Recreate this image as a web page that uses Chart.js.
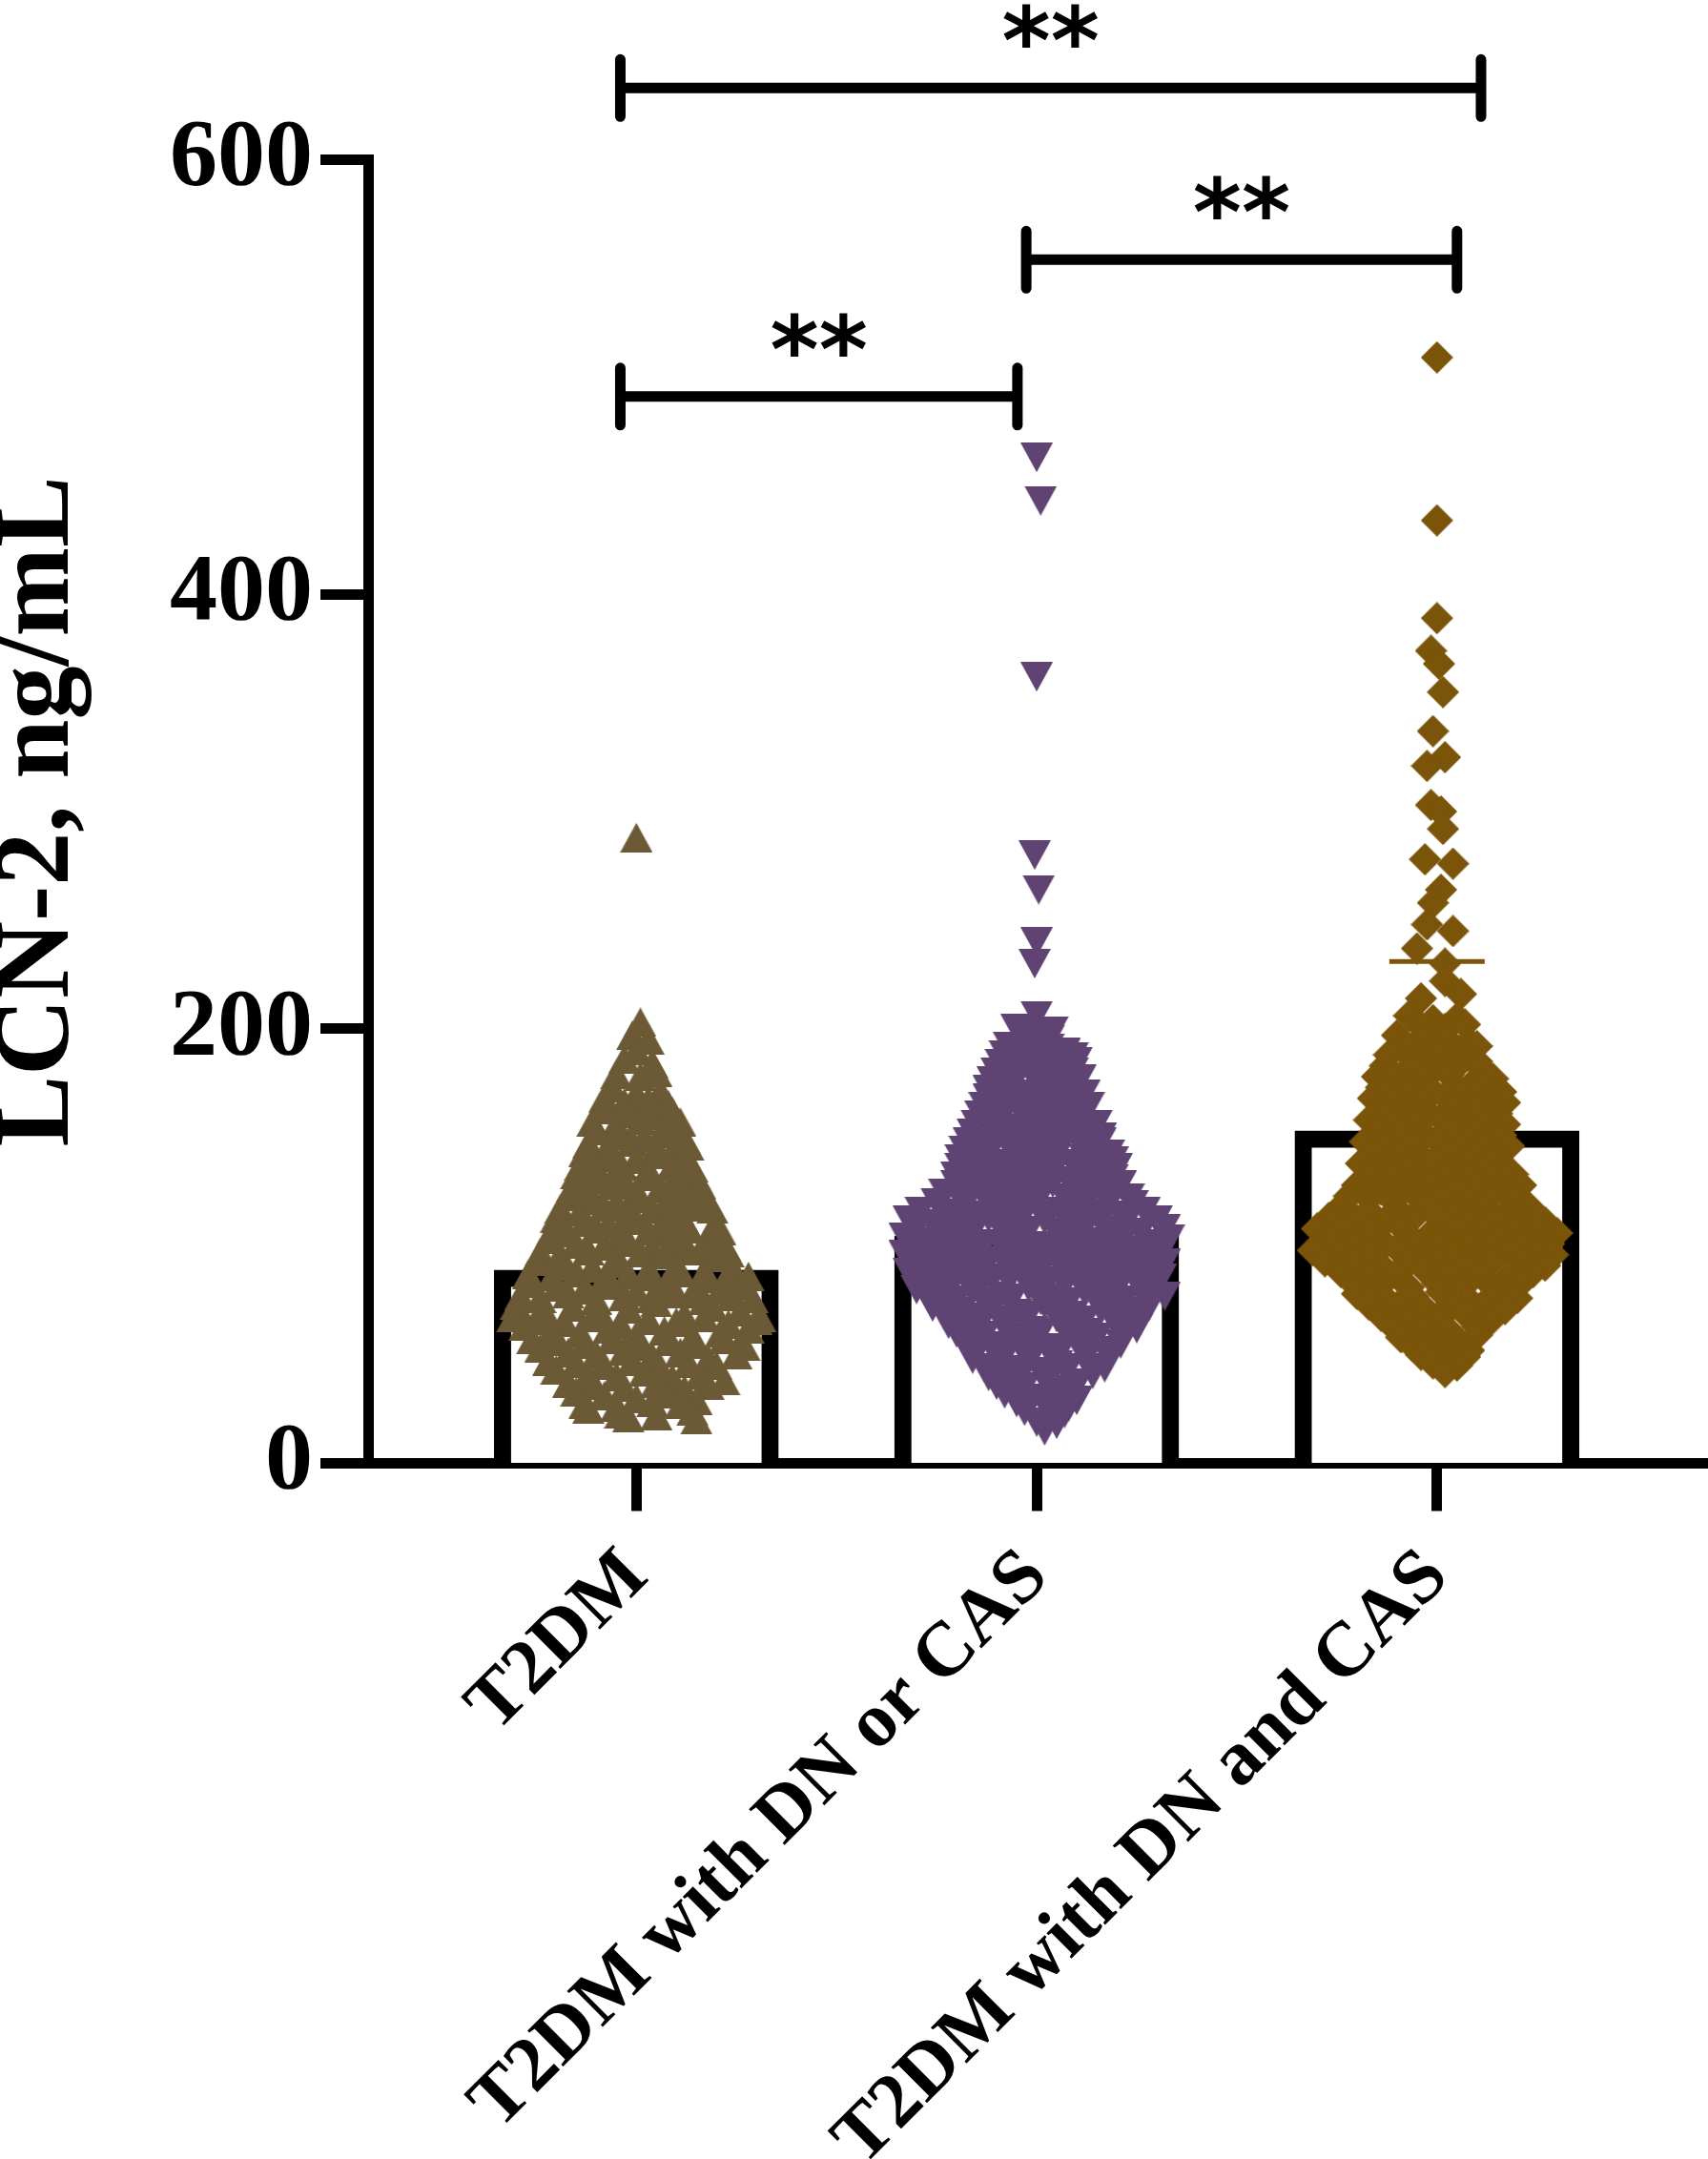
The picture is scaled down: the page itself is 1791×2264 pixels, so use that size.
<!DOCTYPE html>
<html>
<head>
<meta charset="utf-8">
<script src="https://cdn.jsdelivr.net/npm/chart.js@4.4.1/dist/chart.umd.min.js"></script>
<style>
  html, body { margin: 0; padding: 0; background: #fff; }
  #chart { display: block; }
</style>
</head>
<body>
<canvas id="chart" width="1791" height="2264"></canvas>
<script>
// groups along the x axis
const categories = ['T2DM', 'T2DM with DN or CAS', 'T2DM with DN and CAS'];

// bar heights and the short line over each cloud (ng/mL)
const barValues = [89, 104.5, 153];
const lineValues = [131, 160, 231];
const yTicks = [0, 200, 400, 600];

// single patients; spread = sideways shift in the column scatter (in groups)
const t2dmValues = [
  288,
  203,
  197, 195,
  190,
  186, 184,
  179, 178, 180,
  173, 170, 171,
  168, 166, 167, 165,
  163, 161, 160, 162,
  157, 156, 158, 155, 157,
  153, 151, 150, 152, 149,
  147, 146, 148, 145, 147, 146,
  143, 141, 140, 142, 139,
  137, 136, 138, 135, 137, 136,
  133, 131, 130, 132, 129, 131,
  127, 126, 128, 125, 127, 126, 128,
  123, 121, 120, 122, 119, 121, 118,
  117, 116, 118, 115, 117, 116, 118, 117,
  113, 111, 110, 112, 109, 111, 108,
  107, 106, 108, 105, 107, 106, 108, 105, 107,
  103, 101, 100, 102, 99, 101, 98, 100,
  97, 96, 98, 95, 97, 96, 98, 95, 97,
  93, 91, 90, 92, 89, 91, 88, 90,
  87, 86, 88, 85, 87, 86, 88, 85, 87, 86,
  83, 81, 80, 82, 79, 81, 78, 80, 82,
  77, 76, 78, 75, 77, 76, 78, 75, 77, 76,
  73, 70, 72, 69, 71, 74, 68, 72, 70, 67,
  67, 66, 65, 67, 64, 66, 65, 67, 64, 66,
  63, 61, 60, 62, 59, 61, 58, 60, 62,
  57, 56, 55, 57, 54, 56, 55, 57, 54,
  53, 51, 50, 52, 49, 51, 48, 50,
  47, 46, 45, 47, 44, 46, 45,
  43, 41, 40, 42, 39, 41, 38,
  37, 36, 35, 37, 34, 36,
  33, 31, 30, 32, 29,
  27, 26, 28, 27,
  25, 23, 22, 24,
  20, 21
];
const t2dmSpread = [
  0,
  0.01,
  -0.01, 0.03,
  0,
  -0.03, 0.04,
  -0.05, 0.01, 0.05,
  -0.06, 0, 0.06,
  -0.08, -0.03, 0.03, 0.08,
  -0.08, -0.02, 0.04, 0.09,
  -0.11, -0.05, 0.01, 0.07, 0.11,
  -0.1, -0.04, 0.02, 0.08, 0.12,
  -0.12, -0.07, -0.01, 0.05, 0.1, 0.13,
  -0.13, -0.07, 0, 0.06, 0.12,
  -0.14, -0.1, -0.04, 0.03, 0.09, 0.14,
  -0.15, -0.09, -0.03, 0.03, 0.09, 0.15,
  -0.16, -0.12, -0.06, 0, 0.06, 0.12, 0.16,
  -0.17, -0.11, -0.05, 0.01, 0.07, 0.13, 0.18,
  -0.19, -0.14, -0.08, -0.02, 0.04, 0.1, 0.16, 0.19,
  -0.2, -0.13, -0.07, 0, 0.06, 0.12, 0.19,
  -0.21, -0.17, -0.1, -0.04, 0.03, 0.09, 0.13, 0.19, 0.21,
  -0.22, -0.15, -0.08, -0.02, 0.04, 0.1, 0.16, 0.22,
  -0.24, -0.19, -0.12, -0.05, 0.01, 0.07, 0.13, 0.19, 0.23,
  -0.25, -0.18, -0.11, -0.04, 0.03, 0.1, 0.17, 0.24,
  -0.27, -0.21, -0.15, -0.08, -0.02, 0.04, 0.11, 0.18, 0.23, 0.28,
  -0.27, -0.2, -0.13, -0.06, 0, 0.07, 0.14, 0.21, 0.27,
  -0.29, -0.24, -0.17, -0.1, -0.03, 0.04, 0.1, 0.17, 0.24, 0.29,
  -0.3, -0.23, -0.16, -0.09, -0.02, 0.05, 0.12, 0.19, 0.26, 0.31,
  -0.31, -0.25, -0.18, -0.11, -0.04, 0.03, 0.1, 0.17, 0.23, 0.3,
  -0.28, -0.21, -0.14, -0.07, 0, 0.07, 0.14, 0.21, 0.28,
  -0.26, -0.2, -0.13, -0.06, 0.01, 0.08, 0.15, 0.22, 0.27,
  -0.24, -0.17, -0.1, -0.03, 0.04, 0.11, 0.18, 0.25,
  -0.22, -0.15, -0.08, -0.01, 0.06, 0.13, 0.2,
  -0.2, -0.12, -0.05, 0.02, 0.09, 0.16, 0.22,
  -0.17, -0.11, -0.03, 0.05, 0.12, 0.18,
  -0.15, -0.08, 0, 0.08, 0.15,
  -0.13, -0.05, 0.04, 0.11,
  -0.12, -0.04, 0.05, 0.14,
  0.15, -0.02
];

const orValues = [
  463, 443, 362, 280, 264, 240, 230, 206,
  200, 198, 199,
  196, 195,
  192, 190, 191, 189,
  188, 187, 186, 188, 187,
  184, 182, 183, 181, 185,
  180, 179, 181, 178, 180,
  176, 174, 175, 173, 177,
  172, 171, 170, 172, 171, 170,
  168, 166, 167, 165, 169, 164,
  164, 163, 162, 164, 163, 162,
  160, 158, 159, 157, 161, 156,
  156, 155, 154, 156, 155, 154, 156,
  152, 150, 151, 149, 153, 148, 150,
  148, 147, 146, 148, 147, 146, 148,
  144, 142, 143, 141, 145, 140, 142,
  140, 139, 138, 140, 139, 138, 140, 139,
  136, 134, 135, 133, 137, 132, 134, 136,
  132, 131, 130, 132, 131, 130, 132, 131,
  128, 126, 127, 125, 129, 124, 126, 128,
  124, 123, 122, 124, 123, 122, 124, 123, 122,
  120, 118, 119, 117, 121, 116, 118, 120, 119,
  116, 115, 114, 116, 115, 114, 116, 115, 114, 116,
  112, 110, 111, 113, 109, 112, 110, 111, 113, 112,
  108, 107, 106, 108, 107, 106, 108, 107, 106, 108,
  104, 102, 103, 101, 105, 100, 103, 102, 104, 101, 103,
  100, 99, 98, 100, 99, 98, 100, 99, 98, 100,
  96, 94, 95, 93, 97, 92, 95, 94, 96, 93,
  92, 91, 90, 92, 91, 90, 92, 91, 90, 92,
  88, 86, 87, 85, 89, 84, 87, 86, 88, 85,
  84, 83, 82, 84, 83, 82, 84, 83, 82,
  80, 78, 79, 77, 81, 76, 79, 78, 80, 77,
  76, 75, 74, 76, 75, 74, 76, 75, 74,
  72, 70, 71, 69, 73, 68, 71, 70, 72,
  68, 67, 66, 68, 67, 66, 68, 67,
  64, 62, 63, 61, 65, 60, 63, 62,
  60, 59, 58, 60, 59, 58, 60,
  56, 54, 55, 53, 57, 52, 55,
  52, 51, 50, 52, 51, 50,
  48, 46, 47, 45, 49, 44,
  44, 43, 42, 44, 43,
  40, 38, 39, 37, 41,
  36, 35, 34, 36,
  32, 30, 31, 29,
  28, 27, 26,
  24, 22, 23,
  19, 18,
  15
];
const orSpread = [
  0, 0.01, 0, -0.005, 0.005, 0, -0.005, 0,
  -0.05, 0, 0.04,
  -0.03, 0.03,
  -0.07, -0.02, 0.03, 0.07,
  -0.08, -0.04, 0.01, 0.05, 0.09,
  -0.09, -0.04, 0.02, 0.07, 0.1,
  -0.1, -0.06, -0.01, 0.05, 0.09,
  -0.11, -0.06, 0, 0.06, 0.11,
  -0.12, -0.08, -0.03, 0.03, 0.08, 0.12,
  -0.12, -0.07, -0.01, 0.05, 0.1, 0.13,
  -0.13, -0.09, -0.04, 0.02, 0.08, 0.12,
  -0.14, -0.09, -0.03, 0.03, 0.09, 0.14,
  -0.15, -0.11, -0.06, 0, 0.06, 0.11, 0.15,
  -0.16, -0.1, -0.04, 0.02, 0.08, 0.13, 0.16,
  -0.17, -0.13, -0.07, -0.01, 0.05, 0.11, 0.16,
  -0.18, -0.12, -0.06, 0, 0.06, 0.12, 0.18,
  -0.19, -0.15, -0.09, -0.03, 0.03, 0.09, 0.15, 0.19,
  -0.19, -0.13, -0.07, -0.01, 0.05, 0.11, 0.17, 0.2,
  -0.2, -0.16, -0.1, -0.04, 0.02, 0.08, 0.14, 0.19,
  -0.2, -0.14, -0.08, -0.02, 0.04, 0.1, 0.16, 0.21,
  -0.23, -0.17, -0.11, -0.05, 0.01, 0.07, 0.13, 0.19, 0.23,
  -0.25, -0.18, -0.12, -0.06, 0, 0.06, 0.12, 0.18, 0.24,
  -0.29, -0.22, -0.15, -0.09, -0.03, 0.03, 0.09, 0.15, 0.21, 0.27,
  -0.32, -0.26, -0.19, -0.12, -0.05, 0.02, 0.09, 0.16, 0.23, 0.3,
  -0.3, -0.23, -0.16, -0.09, -0.02, 0.05, 0.12, 0.19, 0.26, 0.32,
  -0.33, -0.27, -0.2, -0.13, -0.06, 0.01, 0.08, 0.15, 0.22, 0.29, 0.33,
  -0.3, -0.23, -0.16, -0.09, -0.02, 0.05, 0.12, 0.19, 0.26, 0.32,
  -0.33, -0.26, -0.19, -0.12, -0.05, 0.02, 0.09, 0.16, 0.23, 0.3,
  -0.29, -0.22, -0.15, -0.08, -0.01, 0.06, 0.13, 0.2, 0.27, 0.32,
  -0.32, -0.25, -0.18, -0.11, -0.04, 0.03, 0.1, 0.17, 0.24, 0.31,
  -0.28, -0.21, -0.14, -0.07, 0, 0.07, 0.14, 0.21, 0.28,
  -0.3, -0.23, -0.16, -0.09, -0.02, 0.05, 0.12, 0.19, 0.26, 0.32,
  -0.27, -0.2, -0.13, -0.06, 0.01, 0.08, 0.15, 0.22, 0.28,
  -0.26, -0.19, -0.12, -0.05, 0.02, 0.09, 0.16, 0.23, 0.28,
  -0.23, -0.16, -0.09, -0.02, 0.05, 0.12, 0.19, 0.25,
  -0.22, -0.15, -0.08, -0.01, 0.06, 0.13, 0.2, 0.25,
  -0.2, -0.13, -0.06, 0.01, 0.08, 0.15, 0.21,
  -0.18, -0.11, -0.04, 0.03, 0.1, 0.17, 0.21,
  -0.15, -0.08, -0.01, 0.06, 0.13, 0.18,
  -0.16, -0.09, -0.02, 0.05, 0.12, 0.17,
  -0.13, -0.06, 0.01, 0.08, 0.14,
  -0.12, -0.05, 0.02, 0.09, 0.14,
  -0.1, -0.03, 0.04, 0.1,
  -0.08, -0.01, 0.06, 0.1,
  -0.05, 0.02, 0.08,
  -0.03, 0.04, 0.07,
  0, 0.05,
  0.02
];

const andValues = [
  509, 434, 389, 374, 368, 355, 337, 325, 321, 303,
  300, 292, 278, 276, 264, 258, 248, 245, 237, 230,
  222, 216, 214,
  206, 204, 205,
  201, 200, 202,
  197, 195, 196, 194,
  192, 191, 190, 192,
  188, 186, 187, 189, 185,
  183, 182, 181, 183, 182,
  178, 176, 177, 179, 175, 177,
  173, 172, 171, 173, 172, 171,
  168, 166, 167, 169, 165, 167, 166,
  163, 162, 161, 163, 162, 161,
  158, 156, 157, 159, 155, 157, 156,
  153, 152, 151, 153, 152, 151,
  148, 146, 147, 149, 145, 147, 146,
  143, 142, 141, 143, 142, 141,
  138, 136, 137, 139, 135, 137, 136,
  133, 132, 131, 133, 132, 131, 133,
  128, 126, 127, 129, 125, 127, 126, 128,
  123, 122, 121, 123, 122, 121, 123, 122,
  118, 116, 117, 119, 115, 117, 116, 118,
  113, 112, 111, 113, 112, 111, 113, 112, 111,
  108, 106, 107, 109, 105, 107, 106, 108, 107, 106,
  103, 102, 101, 103, 102, 101, 103, 102, 101,
  98, 96, 97, 99, 95, 97, 96, 98, 97, 96,
  93, 92, 91, 93, 92, 91, 93, 92, 91,
  88, 86, 87, 89, 85, 87, 86, 88,
  83, 82, 81, 83, 82, 81, 83,
  78, 76, 77, 79, 75, 77, 76,
  73, 72, 71, 73, 72, 71,
  68, 66, 67, 69, 65,
  63, 62, 61, 63,
  58, 56, 57, 59,
  54, 53, 52,
  50, 48, 49,
  46, 45,
  42
];
const andSpread = [
  0, 0, 0, -0.015, 0.005, 0.015, -0.01, 0.02, -0.025, -0.015,
  0.01, 0.015, -0.03, 0.04, 0.01, -0.01, -0.025, 0.04, -0.05, 0.02,
  0.02, 0.06, -0.04,
  -0.07, -0.01, 0.05,
  -0.04, 0.02, 0.07,
  -0.1, -0.04, 0.02, 0.08,
  -0.08, -0.01, 0.05, 0.1,
  -0.12, -0.06, 0, 0.06, 0.1,
  -0.13, -0.07, -0.01, 0.05, 0.11,
  -0.15, -0.09, -0.03, 0.03, 0.09, 0.14,
  -0.14, -0.07, -0.01, 0.05, 0.11, 0.16,
  -0.16, -0.1, -0.04, 0.02, 0.08, 0.14, 0.17,
  -0.14, -0.08, -0.02, 0.04, 0.1, 0.15,
  -0.17, -0.11, -0.05, 0.01, 0.07, 0.13, 0.17,
  -0.15, -0.09, -0.03, 0.03, 0.1, 0.16,
  -0.18, -0.12, -0.06, 0, 0.06, 0.12, 0.18,
  -0.16, -0.1, -0.04, 0.03, 0.09, 0.15,
  -0.19, -0.13, -0.07, -0.01, 0.05, 0.11, 0.17,
  -0.17, -0.11, -0.04, 0.02, 0.08, 0.14, 0.19,
  -0.2, -0.14, -0.08, -0.02, 0.04, 0.1, 0.16, 0.21,
  -0.22, -0.17, -0.11, -0.05, 0.01, 0.07, 0.13, 0.2,
  -0.24, -0.17, -0.1, -0.03, 0.04, 0.11, 0.18, 0.23,
  -0.27, -0.2, -0.13, -0.06, 0.01, 0.08, 0.15, 0.22, 0.27,
  -0.3, -0.23, -0.16, -0.09, -0.02, 0.05, 0.12, 0.19, 0.26, 0.3,
  -0.27, -0.2, -0.13, -0.06, 0.01, 0.08, 0.15, 0.22, 0.28,
  -0.31, -0.24, -0.17, -0.1, -0.03, 0.04, 0.11, 0.18, 0.25, 0.29,
  -0.28, -0.21, -0.14, -0.07, 0, 0.07, 0.14, 0.21, 0.27,
  -0.24, -0.17, -0.1, -0.03, 0.04, 0.11, 0.18, 0.24,
  -0.21, -0.14, -0.07, 0, 0.07, 0.14, 0.21,
  -0.2, -0.13, -0.06, 0.01, 0.08, 0.15, 0.2,
  -0.17, -0.1, -0.03, 0.04, 0.11, 0.17,
  -0.14, -0.07, 0, 0.07, 0.13,
  -0.11, -0.04, 0.03, 0.1,
  -0.09, -0.02, 0.05, 0.1,
  -0.06, 0.01, 0.08,
  -0.04, 0.03, 0.07,
  -0.01, 0.05,
  0.02
];

// significance brackets (group positions and height in ng/mL)
const bracketStart = [-0.04, 0.974, -0.04];
const bracketEnd = [0.952, 2.05, 2.11];
const bracketLevel = [491, 554, 633];
const bracketLabels = ['**', '**', '**'];

const colors = ['#6b5a35', '#5e4373', '#7a5409'];
const serif = '"Liberation Serif", "Times New Roman", serif';

// marker shapes drawn on small canvases
function makeMarker(shape, color, w, h) {
  const c = document.createElement('canvas');
  c.width = w;
  c.height = h;
  const g = c.getContext('2d');
  g.fillStyle = color;
  g.beginPath();
  if (shape === 'up') {
    g.moveTo(w / 2, 0); g.lineTo(w, h); g.lineTo(0, h);
  } else if (shape === 'down') {
    g.moveTo(0, 0); g.lineTo(w, 0); g.lineTo(w / 2, h);
  } else {
    g.moveTo(w / 2, 0); g.lineTo(w, h / 2); g.lineTo(w / 2, h); g.lineTo(0, h / 2);
  }
  g.closePath();
  g.fill();
  return c;
}

function toPoints(values, spread, group) {
  return values.map((v, i) => ({ x: group + spread[i], y: v }));
}

// brackets with ** above them
const bracketPlugin = {
  id: 'brackets',
  afterDatasetsDraw(chart) {
    const { ctx, scales: { x, y } } = chart;
    ctx.save();
    ctx.strokeStyle = '#000';
    ctx.fillStyle = '#000';
    ctx.lineWidth = 11;
    bracketLabels.forEach((label, i) => {
      const x1 = x.getPixelForValue(bracketStart[i]);
      const x2 = x.getPixelForValue(bracketEnd[i]);
      const yl = y.getPixelForValue(bracketLevel[i]);
      ctx.lineCap = 'butt';
      ctx.beginPath();
      ctx.moveTo(x1, yl);
      ctx.lineTo(x2, yl);
      ctx.stroke();
      ctx.lineCap = 'round';
      ctx.beginPath();
      ctx.moveTo(x1, yl - 30);
      ctx.lineTo(x1, yl + 30);
      ctx.moveTo(x2, yl - 30);
      ctx.lineTo(x2, yl + 30);
      ctx.stroke();

      ctx.font = 'bold 100px "DejaVu Sans"';
      let m = ctx.measureText(label);
      const size = 100 * 46 / (m.actualBoundingBoxAscent + m.actualBoundingBoxDescent);
      ctx.font = 'bold ' + size + 'px "DejaVu Sans"';
      m = ctx.measureText(label);
      ctx.textAlign = 'center';
      ctx.textBaseline = 'alphabetic';
      ctx.fillText(label, (x1 + x2) / 2, yl - 42 - m.actualBoundingBoxDescent);
    });
    ctx.restore();
  }
};

const scatterSets = [
  [t2dmValues, t2dmSpread, 'up'],
  [orValues, orSpread, 'down'],
  [andValues, andSpread, 'diamond']
].map(([values, spread, shape], g) => ({
  type: 'scatter',
  data: toPoints(values, spread, g),
  pointStyle: makeMarker(shape, colors[g], 34, shape === 'diamond' ? 34 : 31),
  pointRadius: 17,
  order: 1
}));

new Chart(document.getElementById('chart'), {
  type: 'scatter',
  data: {
    datasets: [
      {
        type: 'bar',
        data: barValues.map((v, i) => ({ x: i, y: v })),
        backgroundColor: '#ffffff',
        borderColor: '#000000',
        borderWidth: 18,
        barThickness: 298,
        order: 3
      },
      ...scatterSets,
      {
        type: 'scatter',
        data: lineValues.map((v, i) => ({ x: i, y: v })),
        pointStyle: 'line',
        pointRadius: 50,
        pointBorderWidth: 5,
        pointBorderColor: colors,
        order: 0
      }
    ]
  },
  options: {
    responsive: false,
    devicePixelRatio: 1,
    animation: false,
    events: [],
    layout: { autoPadding: false, padding: { top: 167.5, right: 0, left: 0, bottom: 0 } },
    plugins: {
      legend: { display: false },
      tooltip: { enabled: false }
    },
    scales: {
      x: {
        type: 'linear',
        offset: false,
        min: -0.67,
        max: 2.677,
        afterBuildTicks: (axis) => { axis.ticks = categories.map((c, i) => ({ value: i })); },
        afterFit: (axis) => { axis.height = 729.5; },
        ticks: {
          callback: (v) => categories[v],
          autoSkip: false,
          minRotation: 45,
          maxRotation: 45,
          padding: 22,
          color: '#000',
          font: { family: serif, weight: 'bold', size: 81 }
        },
        grid: {
          offset: false,
          drawOnChartArea: false,
          tickLength: 50,
          tickWidth: 11,
          tickColor: '#000'
        },
        border: { color: '#000', width: 11 }
      },
      y: {
        min: 0,
        max: 600,
        afterBuildTicks: (axis) => { axis.ticks = yTicks.map((v) => ({ value: v })); },
        afterFit: (axis) => { axis.width = 386; },
        ticks: {
          padding: 8,
          color: '#000',
          font: { family: serif, weight: 'bold', size: 100 }
        },
        grid: {
          drawOnChartArea: false,
          tickLength: 50,
          tickWidth: 11,
          tickColor: '#000'
        },
        border: { color: '#000', width: 11 },
        title: {
          display: true,
          text: 'LCN-2, ng/mL',
          color: '#000',
          padding: 0,
          font: { family: serif, weight: 'bold', size: 112, lineHeight: 0.75 }
        }
      }
    }
  },
  plugins: [bracketPlugin]
});
</script>
</body>
</html>
